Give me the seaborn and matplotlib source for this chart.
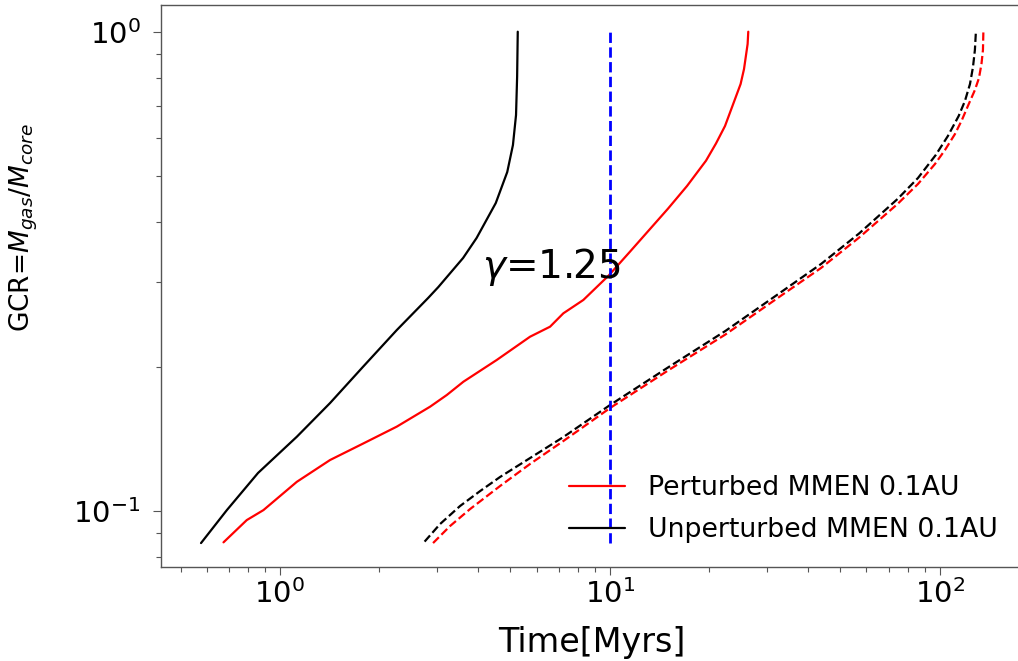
import matplotlib
matplotlib.use("Agg")
import matplotlib.pyplot as plt
from matplotlib.lines import Line2D
from matplotlib.ticker import LogLocator, NullFormatter
import seaborn as sns
import pandas as pd

# Gas-to-core ratio growth at 0.1 AU in an MMEN disk (gamma = 1.25)

# Unperturbed disk, solid curve
unpert_t = [0.577, 0.691, 0.859, 1.126, 1.420, 1.788, 2.262, 2.815, 3.024,
            3.594, 3.949, 4.514, 4.891, 5.089, 5.200, 5.240, 5.263]
unpert_gcr = [0.0856, 0.1003, 0.1199, 0.1427, 0.1678, 0.1998, 0.2383, 0.2780,
              0.2931, 0.3370, 0.3710, 0.4388, 0.5095, 0.5800, 0.6700, 0.806,
              1.0]

# Perturbed disk, solid curve
pert_t = [0.675, 0.794, 0.892, 1.126, 1.420, 1.792, 2.262, 2.855, 3.207, 3.601,
          4.545, 5.734, 6.594, 7.235, 8.318, 9.924, 11.49, 15.02, 17.15, 19.58,
          20.99, 22.36, 23.64, 24.93, 25.53, 26.18, 26.30]
pert_gcr = [0.0859, 0.0956, 0.1003, 0.1149, 0.1276, 0.1382, 0.1498, 0.1649,
            0.1744, 0.1859, 0.2064, 0.2308, 0.2422, 0.2583, 0.2754, 0.3097,
            0.3467, 0.4272, 0.4763, 0.5379, 0.5842, 0.6356, 0.7047, 0.7777,
            0.8357, 0.9426, 1.0]

# Unperturbed disk, dashed curve
unpert_dash_t = [2.747, 3.060, 3.519, 4.046, 4.651, 5.734, 7.235, 10.02, 15.02,
                 22.40, 33.44, 43.68, 57.02, 74.5, 85.96, 97.3, 105.9, 114.2,
                 119.3, 123.6, 126.2, 127.9, 128.8]
unpert_dash_gcr = [0.0862, 0.0938, 0.1023, 0.1099, 0.1176, 0.1288, 0.1425,
                   0.1662, 0.1991, 0.2372, 0.2876, 0.3273, 0.3792, 0.4473,
                   0.4949, 0.5527, 0.6055, 0.6668, 0.7166, 0.7777, 0.8437,
                   0.9158, 1.0]

# Perturbed disk, dashed curve
pert_dash_t = [2.914, 3.281, 3.773, 4.651, 5.734, 7.235, 10.02, 15.02, 22.40,
               33.44, 43.68, 57.02, 74.5, 85.96, 96.78, 103.8, 111.3, 116.8,
               121.8, 127.9, 131.6, 133.9, 135.3, 135.7]
pert_dash_gcr = [0.0856, 0.0929, 0.1008, 0.1126, 0.1252, 0.1398, 0.1638,
                 0.1962, 0.2332, 0.2827, 0.3211, 0.3718, 0.4367, 0.4809,
                 0.5293, 0.5663, 0.6115, 0.6540, 0.6997, 0.7555, 0.8004,
                 0.8562, 0.9158, 1.0]

t_mark = 10.0
mark_gcr = [0.0856, 1.0]
gamma_label = r"$\gamma$=1.25"
labels = ["Perturbed MMEN 0.1AU", "Unperturbed MMEN 0.1AU"]

sns.set_style("ticks")
plt.rcParams["font.family"] = ["DejaVu Sans"]
plt.rcParams["mathtext.fontset"] = "dejavusans"
plt.rcParams["text.color"] = "black"
plt.rcParams["axes.labelcolor"] = "black"
plt.rcParams["xtick.labelcolor"] = "black"
plt.rcParams["ytick.labelcolor"] = "black"

fig = plt.figure(figsize=(10.18, 6.61), dpi=100)
ax = fig.add_axes([0.1582, 0.1422, 0.8507, 0.8502])


def draw(t, g, color, ls):
    df = pd.DataFrame({"t": t, "g": g})
    sns.lineplot(data=df, x="t", y="g", ax=ax, color=color, linestyle=ls,
                 linewidth=1.6, sort=False, estimator=None, legend=False)


draw(unpert_t, unpert_gcr, "black", "-")
draw(pert_t, pert_gcr, "red", "-")
draw(unpert_dash_t, unpert_dash_gcr, "black", "--")
draw(pert_dash_t, pert_dash_gcr, "red", "--")

ax.vlines(t_mark, mark_gcr[0], mark_gcr[1], colors="blue",
          linestyles="--", linewidth=2.0, zorder=3)

ax.set_xscale("log")
ax.set_yscale("log")
ax.set_xlim(10 ** -0.36, 10 ** 2.265)
ax.set_ylim(10 ** -1.1175, 10 ** 0.0557)

ax.xaxis.set_major_locator(LogLocator(base=10))
ax.xaxis.set_minor_locator(LogLocator(base=10, subs=range(2, 10)))
ax.yaxis.set_minor_locator(LogLocator(base=10, subs=range(2, 10)))
ax.xaxis.set_minor_formatter(NullFormatter())
ax.yaxis.set_minor_formatter(NullFormatter())

ax.tick_params(which="major", length=5.5, width=0.8, color="#555555",
               labelsize=21, labelcolor="black")
ax.tick_params(which="minor", length=3.5, width=0.8, color="#555555")
ax.tick_params(axis="y", which="major", pad=9)
for side in ["left", "bottom", "top"]:
    ax.spines[side].set_color("#555555")
    ax.spines[side].set_linewidth(1.0)
ax.spines["right"].set_visible(False)

ax.set_xlabel("Time[Myrs]", fontsize=24)
ax.set_ylabel(r"GCR=$M_{gas}/M_{core}$", fontsize=19)
ax.xaxis.set_label_coords(0.4977, -0.105)
ax.yaxis.set_label_coords(-0.14, 0.603)

ax.text(4.1, 0.306, gamma_label, fontsize=28, va="baseline", ha="left")

handles = [Line2D([], [], color="red", lw=1.6),
           Line2D([], [], color="black", lw=1.6)]
ax.legend(handles, labels, loc="lower right", bbox_to_anchor=(0.979, 0.023),
          frameon=False, fontsize=19.3, handlelength=2.1, handletextpad=0.85,
          labelspacing=0.6, borderaxespad=0.0)

fig.savefig("out.png", dpi=100)
